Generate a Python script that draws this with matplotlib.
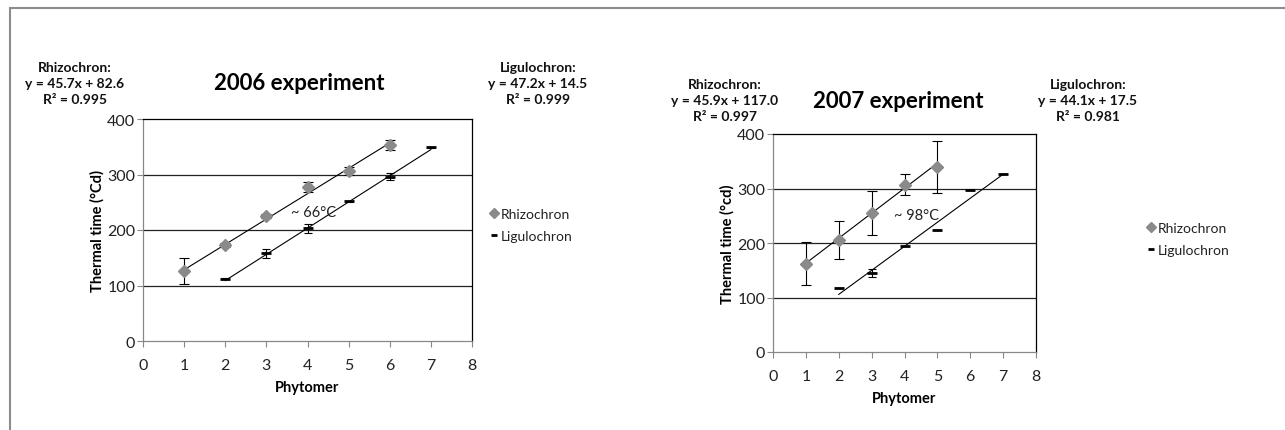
import matplotlib
matplotlib.use("Agg")
import matplotlib.pyplot as plt
from matplotlib.patches import Rectangle
from matplotlib.lines import Line2D
import numpy as np

plt.rcParams['font.family'] = ['Lato', 'DejaVu Sans']

W, H = 1285, 431

# ---- data ----
phyt_rhizo_06 = [1, 2, 3, 4, 5, 6]
rhizo_06 = [126, 173, 225, 277, 306, 353]
rhizo_06_err = [23, 4, 4, 9, 7, 9]
phyt_ligulo_06 = [2, 3, 4, 5, 6, 7]
ligulo_06 = [112, 158, 203, 252, 296, 349]
ligulo_06_err = [1, 8, 8, 1, 6, 1]

phyt_rhizo_07 = [1, 2, 3, 4, 5]
rhizo_07 = [162, 206, 255, 307, 340]
rhizo_07_err = [39, 35, 40, 19, 48]
phyt_ligulo_07 = [2, 3, 4, 5, 6, 7]
ligulo_07 = [118, 145, 194, 223, 298, 327]
ligulo_07_err = [0, 8, 0, 0, 0, 0]

# trend lines as printed on the chart: (slope, intercept, R2)
fit_rhizo_06 = (45.7, 82.6, 0.995)
fit_ligulo_06 = (47.2, 14.5, 0.999)
fit_rhizo_07 = (45.9, 117.0, 0.997)
fit_ligulo_07 = (44.1, 17.5, 0.981)

x_ticks = list(range(0, 9))
y_ticks = [0, 100, 200, 300, 400]

RHIZO_GREY = '#8a8a8a'


def px_axes(fig, left, top, right, bottom):
    return fig.add_axes([left / W, 1 - bottom / H, (right - left) / W, (bottom - top) / H])


def draw_panel(ax, rx, ry, re, lx, ly, le, fit_r, fit_l):
    for y in y_ticks[1:-1]:
        ax.axhline(y, color='#222222', lw=0.9, zorder=1)
    # trend lines
    xr = np.array([rx[0], rx[-1]])
    ax.plot(xr, fit_r[0] * xr + fit_r[1], color='black', lw=0.8, zorder=2)
    xl = np.array([lx[0], lx[-1]])
    ax.plot(xl, fit_l[0] * xl + fit_l[1], color='black', lw=0.8, zorder=2)
    ax.errorbar(rx, ry, yerr=re, fmt='D', color=RHIZO_GREY, ms=6.5, mec=RHIZO_GREY,
                ecolor='black', elinewidth=0.8, capsize=3.5, capthick=0.8, zorder=3)
    ax.errorbar(lx, ly, yerr=le, fmt='none', ecolor='black', elinewidth=0.8,
                capsize=3, capthick=0.8, zorder=3)
    ax.plot(lx, ly, ls='none', marker='_', color='black', ms=7, mew=2, zorder=4)
    ax.set_xlim(0, 8)
    ax.set_ylim(0, 400)
    ax.set_xticks(x_ticks)
    ax.set_yticks(y_ticks)
    ax.tick_params(axis='both', direction='out', length=4, width=0.8, color='#888888',
                   labelsize=11.5, labelcolor='#222222', pad=1.5)
    ax.tick_params(axis='x', pad=8)
    for s in ('left', 'bottom'):
        ax.spines[s].set_color('#888888')
    for s in ('top', 'right'):
        ax.spines[s].set_color('black')
    for s in ax.spines.values():
        s.set_linewidth(0.9)
    ax.set_xlabel('Phytomer', fontsize=10.5, fontweight='bold', labelpad=6)


fig = plt.figure(figsize=(W / 100, H / 100), dpi=100)
fig.patches.append(Rectangle((10 / W, -0.1), 2, 1 - 9 / H + 0.1, transform=fig.transFigure,
                             fill=False, edgecolor='#8c8c8c', lw=1.5))

ax1 = px_axes(fig, 143, 120, 472, 342)
draw_panel(ax1, phyt_rhizo_06, rhizo_06, rhizo_06_err, phyt_ligulo_06, ligulo_06, ligulo_06_err,
           fit_rhizo_06, fit_ligulo_06)
ax1.set_ylabel('Thermal time (°Cd)', fontsize=10.5, fontweight='bold', labelpad=2)
ax1.text(4.15, 232, '~ 66°C', fontsize=10.5, ha='center', va='center', color='#222222')

ax2 = px_axes(fig, 773, 135, 1036, 353)
draw_panel(ax2, phyt_rhizo_07, rhizo_07, rhizo_07_err, phyt_ligulo_07, ligulo_07, ligulo_07_err,
           fit_rhizo_07, fit_ligulo_07)
ax2.set_ylabel('Thermal time (°cd)', fontsize=10.5, fontweight='bold', labelpad=2)
ax2.text(4.35, 251, '~ 98°C', fontsize=10.5, ha='center', va='center', color='#222222')


def ftext(x, y, s, **kw):
    fig.text(x / W, 1 - y / H, s, **kw)


def eq_text(x, y, name, fit):
    s = f"{name}:\ny = {fit[0]:.1f}x + {fit[1]:.1f}\nR² = {fit[2]:.3f}"
    ftext(x, y, s, ha='center', va='center', fontsize=10, fontweight='bold',
          linespacing=1.4, color='#111111')


eq_text(75, 84, 'Rhizochron', fit_rhizo_06)
eq_text(538, 84, 'Ligulochron', fit_ligulo_06)
eq_text(725, 101, 'Rhizochron', fit_rhizo_07)
eq_text(1088, 101, 'Ligulochron', fit_ligulo_07)

ftext(299, 83, '2006 experiment', ha='center', va='center', fontsize=16, fontweight='bold')
ftext(898, 101, '2007 experiment', ha='center', va='center', fontsize=16, fontweight='bold')

legend_handles = [
    Line2D([], [], ls='none', marker='D', color=RHIZO_GREY, ms=5),
    Line2D([], [], ls='none', marker='_', color='black', ms=5, mew=2),
]
legend_labels = ['Rhizochron', 'Ligulochron']
for lx, ly in ((491, 226), (1148, 240)):
    leg = fig.legend(legend_handles, legend_labels, loc='center left',
                     bbox_to_anchor=(lx / W, 1 - ly / H), frameon=False, fontsize=10,
                     handlelength=0.5, handletextpad=0.2, labelspacing=0.75,
                     borderpad=0, borderaxespad=0)
    for t in leg.get_texts():
        t.set_color('#222222')

fig.savefig('out.png', dpi=100)
